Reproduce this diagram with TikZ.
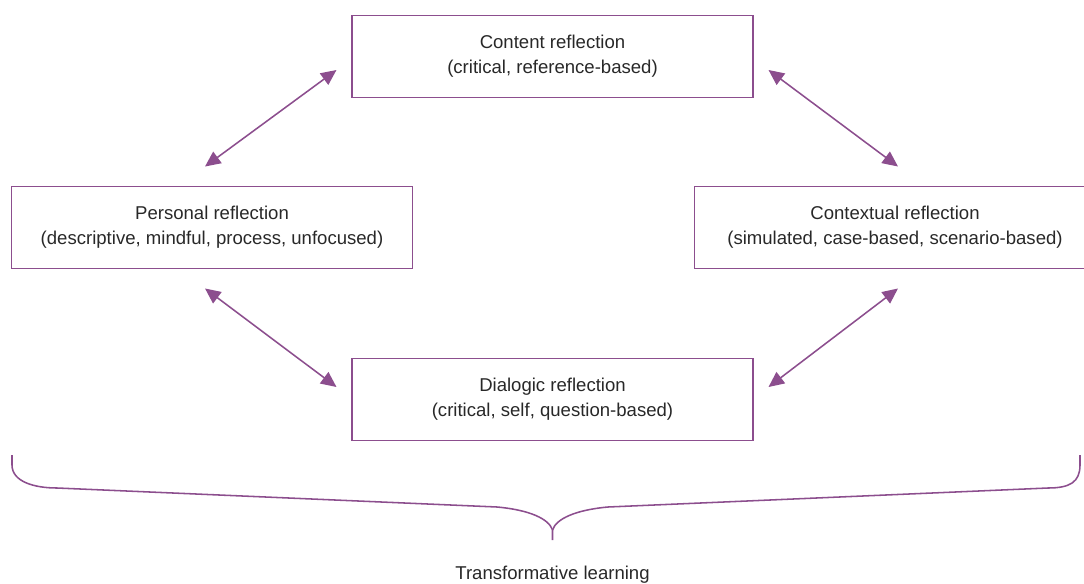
\documentclass[tikz,border=0pt]{standalone}
\usepackage{fontspec}
\setmainfont{Liberation Sans}
\usetikzlibrary{arrows.meta}
\definecolor{refpurple}{RGB}{140,78,142}
\definecolor{reftext}{RGB}{40,40,40}

\begin{document}
\begin{tikzpicture}[
        x=0.025cm, y=-0.025cm,
        refbox/.style={draw=refpurple, line width=0.8pt, minimum width=10.02cm, minimum height=2.07cm,
            align=center, text=reftext, font=\fontsize{13.2}{17.5}\selectfont},
        arr/.style={{Triangle[length=11pt,width=10pt]}-{Triangle[length=11pt,width=10pt]}, line width=1.1pt, refpurple},
        lbl/.style={text=reftext, font=\fontsize{13.2}{17.5}\selectfont}
    ]
    \useasboundingbox (0,0) rectangle (1084,584);

    % ---- BOXES ----
    \node[refbox] (content) at (552.5, 56.5) {Content reflection\\(critical, reference-based)};
    \node[refbox] (personal) at (212, 227.5) {Personal reflection\\(descriptive, mindful, process, unfocused)};
    \node[refbox] (context) at (895, 227.5) {Contextual reflection\\(simulated, case-based, scenario-based)};
    \node[refbox] (dialogic) at (552.5, 399.5) {Dialogic reflection\\(critical, self, question-based)};

    % ---- ARROWS ----
    \draw[arr] ([shift={(-7,-19)}]personal.north) -- ([shift={(-15,13.5)}]content.west);
    \draw[arr] ([shift={(15,13.5)}]content.east) -- ([shift={(3,-19)}]context.north);
    \draw[arr] ([shift={(-7,19)}]personal.south) -- ([shift={(-15,-12.5)}]dialogic.west);
    \draw[arr] ([shift={(15,-12.5)}]dialogic.east) -- ([shift={(3,19)}]context.south);

    % ---- BRACE ----
    \coordinate (tip) at (552.5, 540);
    \draw[refpurple, line width=1.1pt]
        (12,455) -- (12,465) .. controls (12,482) and (35,488) .. (57,488)
        -- (497,507) .. controls (530,510) and (549,519) .. (552.5,530) -- (tip);
    \draw[refpurple, line width=1.1pt]
        (1080,455) -- (1080,465) .. controls (1080,482) and (1070,488) .. (1048,488)
        -- (608,507) .. controls (575,510) and (556,519) .. (552.5,530);
    \node[lbl] (learning) at (552.5, 575) {Transformative learning};

\end{tikzpicture}
\end{document}
